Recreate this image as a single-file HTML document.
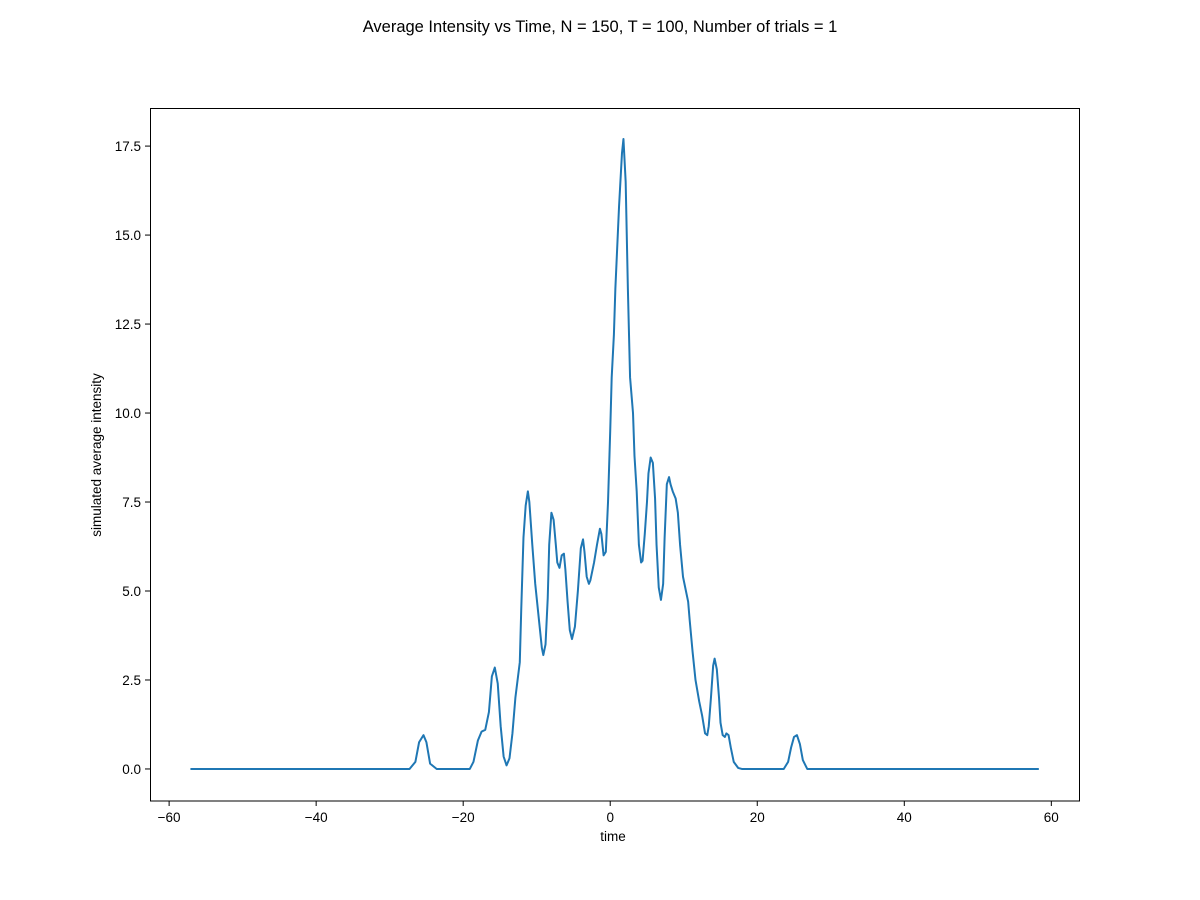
<!DOCTYPE html>
<html><head><meta charset="utf-8"><style>
html,body{margin:0;padding:0;background:#fff;}
svg{display:block;font-family:"Liberation Sans","DejaVu Sans",sans-serif;}
</style></head><body>
<svg id="chart" width="1200" height="900">
<rect width="1200" height="900" fill="#fff"/>
<text x="600" y="32" text-anchor="middle" font-size="16.5">Average Intensity vs Time, N = 150, T = 100, Number of trials = 1</text>
<g id="xticks"></g>
<g id="yticks"></g>
<path id="line" fill="none" stroke="#1f77b4" stroke-width="2" stroke-linejoin="round"/>
<rect x="150.5" y="108.5" width="929" height="692.5" fill="none" stroke="#000" stroke-width="1"/>
<text x="613" y="841" text-anchor="middle" font-size="13.5">time</text>
<text transform="translate(101,455) rotate(-90)" text-anchor="middle" font-size="13.5">simulated average intensity</text>
</svg>
<script>
const times = [-57.1,-27.3,-26.5,-26.0,-25.4,-25.0,-24.5,-23.6,-19.1,-18.6,-18.0,-17.5,-17.0,-16.5,-16.1,-15.7,-15.3,-14.9,-14.5,-14.1,-13.7,-13.3,-12.9,-12.3,-12.1,-11.8,-11.5,-11.2,-11.0,-10.6,-10.2,-9.6,-9.3,-9.1,-8.8,-8.5,-8.3,-8.0,-7.7,-7.4,-7.2,-6.9,-6.6,-6.3,-6.1,-5.8,-5.5,-5.2,-4.8,-4.4,-4.0,-3.7,-3.5,-3.2,-2.9,-2.7,-2.2,-1.8,-1.4,-1.2,-0.9,-0.6,-0.3,0.0,0.2,0.5,0.7,1.2,1.6,1.8,2.1,2.4,2.7,3.1,3.3,3.6,3.9,4.2,4.4,4.7,5.0,5.2,5.5,5.8,6.1,6.3,6.6,6.9,7.2,7.4,7.7,8.0,8.2,8.5,8.9,9.2,9.5,9.9,10.3,10.6,10.8,11.2,11.6,12.1,12.5,12.9,13.2,13.4,13.7,14.0,14.2,14.5,14.8,15.0,15.3,15.6,15.8,16.1,16.4,16.8,17.4,17.9,23.6,24.2,24.6,25.0,25.4,25.8,26.2,26.8,58.3];
const intensity = [0,0,0.2,0.75,0.95,0.75,0.15,0,0,0.2,0.8,1.05,1.1,1.6,2.6,2.85,2.4,1.2,0.35,0.1,0.3,1.0,2.0,3.0,4.5,6.5,7.4,7.8,7.5,6.3,5.2,4.0,3.4,3.2,3.5,4.8,6.3,7.2,7.0,6.3,5.8,5.65,6.0,6.05,5.6,4.7,3.9,3.65,4.0,5.0,6.2,6.45,6.1,5.4,5.2,5.3,5.8,6.3,6.75,6.6,6.0,6.1,7.5,9.5,11.0,12.2,13.5,15.8,17.3,17.7,16.5,13.5,11.0,10.0,8.8,7.8,6.3,5.8,5.85,6.6,7.5,8.3,8.75,8.6,7.6,6.3,5.1,4.75,5.2,6.5,8.0,8.2,8.0,7.8,7.6,7.2,6.3,5.4,5.0,4.7,4.2,3.3,2.5,1.9,1.5,1.0,0.95,1.2,2.0,2.9,3.1,2.8,2.0,1.3,0.95,0.9,1.0,0.95,0.6,0.2,0.03,0,0,0.2,0.6,0.9,0.95,0.7,0.25,0,0];
const xTickValues = [-60,-40,-20,0,20,40,60];
const xTickLabels = ["\u221260","\u221240","\u221220","0","20","40","60"];
const yTickValues = [0,2.5,5,7.5,10,12.5,15,17.5];
const yTickLabels = ["0.0","2.5","5.0","7.5","10.0","12.5","15.0","17.5"];

const NS="http://www.w3.org/2000/svg";
const X0=150, X1=1080, Y0=108, Y1=801;
const xmin=-62.6, xmax=63.9, ymin=-0.9, ymax=18.57;
const sx=v=>X0+(v-xmin)/(xmax-xmin)*(X1-X0);
const sy=v=>Y1-(v-ymin)/(ymax-ymin)*(Y1-Y0);

let d="";
times.forEach((t,i)=>{d+=(i?"L":"M")+sx(t).toFixed(2)+","+sy(intensity[i]).toFixed(2);});
document.getElementById("line").setAttribute("d",d);

const xg=document.getElementById("xticks");
xTickValues.forEach((v,i)=>{
  const x=sx(v);
  const l=document.createElementNS(NS,"line");
  l.setAttribute("x1",x);l.setAttribute("x2",x);l.setAttribute("y1",Y1);l.setAttribute("y2",Y1+5);
  l.setAttribute("stroke","#000");
  
  
  xg.appendChild(l);
  const t=document.createElementNS(NS,"text");
  t.setAttribute("x",x);t.setAttribute("y",Y1+21);t.setAttribute("text-anchor","middle");t.setAttribute("font-size","13.5");
  t.textContent=xTickLabels[i];
  
  
  xg.appendChild(t);
});
const yg=document.getElementById("yticks");
yTickValues.forEach((v,i)=>{
  const y=sy(v);
  const l=document.createElementNS(NS,"line");
  l.setAttribute("x1",X0-5);l.setAttribute("x2",X0);l.setAttribute("y1",y);l.setAttribute("y2",y);
  l.setAttribute("stroke","#000");
  
  
  yg.appendChild(l);
  const t=document.createElementNS(NS,"text");
  t.setAttribute("x",X0-9);t.setAttribute("y",y+5);t.setAttribute("text-anchor","end");t.setAttribute("font-size","13.5");
  t.textContent=yTickLabels[i];
  
  
  yg.appendChild(t);
});
</script>
</body></html>
